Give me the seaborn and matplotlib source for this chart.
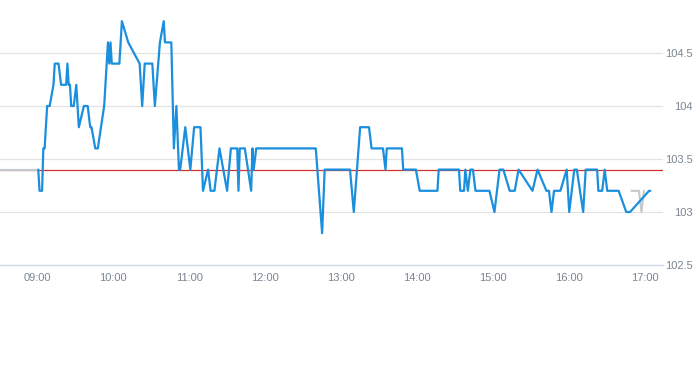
import pandas as pd
import matplotlib
matplotlib.use("Agg")
import matplotlib.pyplot as plt
import seaborn as sns

# intraday price (blue)
times = ["09:01", "09:02", "09:04", "09:05", "09:06", "09:08", "09:10", "09:13", "09:14",
         "09:17", "09:19", "09:23", "09:24", "09:25", "09:26", "09:27", "09:29", "09:31",
         "09:33", "09:37", "09:40", "09:42", "09:43", "09:46", "09:48", "09:53", "09:56",
         "09:57", "09:58", "09:59", "10:05", "10:07", "10:12", "10:21", "10:23", "10:25",
         "10:31", "10:33", "10:37", "10:40", "10:41", "10:46", "10:48", "10:50", "10:52",
         "10:53", "10:57", "11:01", "11:04", "11:09", "11:11", "11:15", "11:17", "11:20",
         "11:24", "11:30", "11:33", "11:38", "11:39", "11:40", "11:44", "11:49", "11:50",
         "11:51", "11:53", "12:40", "12:45", "12:47", "13:07", "13:10", "13:15", "13:22",
         "13:24", "13:33", "13:35", "13:36", "13:48", "13:49", "13:59", "14:02", "14:16",
         "14:17", "14:33", "14:34", "14:37", "14:38", "14:40", "14:42", "14:44", "14:46",
         "14:57", "15:01", "15:05", "15:08", "15:13", "15:17", "15:20", "15:31", "15:35",
         "15:42", "15:44", "15:46", "15:48", "15:53", "15:58", "16:00", "16:04", "16:06",
         "16:11", "16:13", "16:22", "16:23", "16:26", "16:28", "16:30", "16:39", "16:45",
         "16:48", "17:03", "17:04"]
prices = [103.4, 103.2, 103.2, 103.6, 103.6, 104.0, 104.0, 104.2, 104.4,
          104.4, 104.2, 104.2, 104.4, 104.2, 104.2, 104.0, 104.0, 104.2,
          103.8, 104.0, 104.0, 103.8, 103.8, 103.6, 103.6, 104.0, 104.6,
          104.4, 104.6, 104.4, 104.4, 104.8, 104.6, 104.4, 104.0, 104.4,
          104.4, 104.0, 104.6, 104.8, 104.6, 104.6, 103.6, 104.0, 103.4,
          103.4, 103.8, 103.4, 103.8, 103.8, 103.2, 103.4, 103.2, 103.2,
          103.6, 103.2, 103.6, 103.6, 103.2, 103.6, 103.6, 103.2, 103.6,
          103.4, 103.6, 103.6, 102.8, 103.4, 103.4, 103.0, 103.8, 103.8,
          103.6, 103.6, 103.4, 103.6, 103.6, 103.4, 103.4, 103.2, 103.2,
          103.4, 103.4, 103.2, 103.2, 103.4, 103.2, 103.4, 103.4, 103.2,
          103.2, 103.0, 103.4, 103.4, 103.2, 103.2, 103.4, 103.2, 103.4,
          103.2, 103.2, 103.0, 103.2, 103.2, 103.4, 103.0, 103.4, 103.4,
          103.0, 103.4, 103.4, 103.2, 103.2, 103.4, 103.2, 103.2, 103.0,
          103.0, 103.2, 103.2]

# grey reference series (pre-open and close auction)
ref_times = ["08:31", "09:01", "16:49", "16:55", "16:57", "16:59"]
ref_prices = [103.4, 103.4, 103.2, 103.2, 103.0, 103.2]
ref_segment = [0, 0, 1, 1, 1, 1]

prev_close = 103.4
tick_labels = ["09:00", "10:00", "11:00", "12:00", "13:00", "14:00", "15:00", "16:00", "17:00"]
y_ticks = [102.5, 103, 103.5, 104, 104.5]
y_labels = ["102.5", "103", "103.5", "104", "104.5"]


def to_min(s):
    h, m = s.split(":")
    return int(h) * 60 + int(m)


df = pd.DataFrame({"t": [to_min(t) for t in times], "price": prices})
ref = pd.DataFrame({"t": [to_min(t) for t in ref_times], "price": ref_prices, "seg": ref_segment})

sns.set_style("white")
plt.rcParams["font.family"] = ["Liberation Sans", "DejaVu Sans"]

fig = plt.figure(figsize=(6.93, 3.65), dpi=100)
ax = fig.add_axes([0, 1 - 265 / 365, 663 / 693, 265 / 365])

ax.axhline(prev_close, color="#d2302a", lw=0.9, zorder=2)
sns.lineplot(data=ref, x="t", y="price", units="seg", estimator=None, sort=False,
             color="#c3c9cf", lw=1.5, ax=ax, zorder=3)
sns.lineplot(data=df, x="t", y="price", estimator=None, sort=False,
             color="#1a8fdd", lw=1.6, ax=ax, zorder=4)

ax.set_xlim(to_min("08:31") - 0.2, to_min("17:14"))
ax.set_ylim(102.5, 105.0)

ax.set_xticks([to_min(t) for t in tick_labels])
ax.set_xticklabels(tick_labels)
ax.set_yticks(y_ticks)
ax.set_yticklabels(y_labels)
ax.yaxis.tick_right()

ax.yaxis.grid(True, color="#e3e3e3", lw=0.9)
ax.xaxis.grid(False)
for side in ["top", "left", "right"]:
    ax.spines[side].set_visible(False)
ax.spines["bottom"].set_color("#ccd6eb")
ax.spines["bottom"].set_linewidth(0.9)

ax.tick_params(axis="x", length=3.6, width=0.8, color="#ccd6eb", pad=2.5,
               labelsize=8, labelcolor="#7b8591")
ax.tick_params(axis="y", length=0, pad=21.6, labelsize=8, labelcolor="#7b8591")
for lab in ax.get_yticklabels():
    lab.set_ha("right")

ax.set_xlabel("")
ax.set_ylabel("")

fig.savefig("out.png", dpi=100)
